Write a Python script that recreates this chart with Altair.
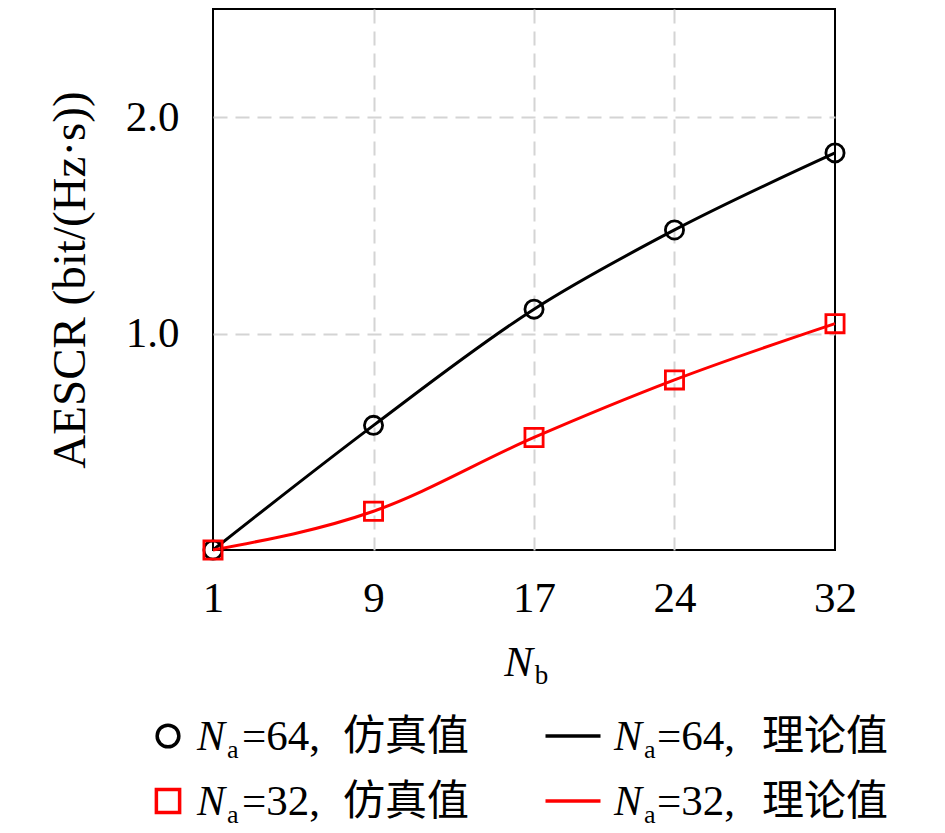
import altair as alt
import pandas as pd

# ---- data ----
nb_values = [1, 9, 17, 24, 32]
sim_na64 = [0.0, 0.576, 1.113, 1.479, 1.835]
sim_na32 = [0.0, 0.179, 0.520, 0.786, 1.046]
theory_na64 = [0.0, 0.576, 1.113, 1.479, 1.835]
theory_na32 = [0.0, 0.179, 0.520, 0.786, 1.046]
x_ticks = [1, 9, 17, 24, 32]
x_grid = [9, 17, 24]
y_ticks = [1.0, 2.0]
series_names = ["64", "32"]
series_colors = ["black", "red"]
series_shapes = ["circle", "square"]

legend_num = ["=64,", "=32,", "=64,", "=32,"]
legend_cn = ["仿真值", "仿真值", "理论值", "理论值"]
legend_col = [0, 0, 1, 1]
legend_row = [0, 1, 0, 1]
legend_color = ["black", "red", "black", "red"]
legend_kind = ["circle", "square", "line", "line"]

FONT = "Liberation Serif, Noto Sans CJK SC"
FS = 43

sim = pd.DataFrame({
    "Nb": nb_values * 2,
    "v": sim_na64 + sim_na32,
    "s": ["64"] * len(nb_values) + ["32"] * len(nb_values),
})
theo = pd.DataFrame({
    "Nb": nb_values * 2,
    "v": theory_na64 + theory_na32,
    "s": ["64"] * len(nb_values) + ["32"] * len(nb_values),
})

xscale = alt.Scale(domain=[1, 32], nice=False, zero=False)
yscale = alt.Scale(domain=[0, 2.5], nice=False)
cscale = alt.Scale(domain=series_names, range=series_colors)

y_enc = alt.Y("v:Q", scale=yscale, axis=alt.Axis(
    values=y_ticks, format=".1f", title="AESCR (bit/(Hz·s))",
    titleFontSize=47, labelPadding=34, titlePadding=31, grid=True))

lines = alt.Chart(theo).mark_line(interpolate="monotone", strokeWidth=3).encode(
    x=alt.X("Nb:Q", scale=xscale, axis=alt.Axis(
        orient="bottom", values=x_ticks, title="N", titleFontStyle="italic",
        labelPadding=27, labelFlush=False, grid=False, titleX=305, titleY=125,
        titleBaseline="alphabetic", titleAlign="center")),
    y=y_enc,
    color=alt.Color("s:N", scale=cscale, legend=None),
    order=alt.Order("Nb:Q"),
)

points = alt.Chart(sim).mark_point(filled=False, strokeWidth=2.8, size=330, opacity=1).encode(
    x=alt.X("Nb:Q", scale=xscale, axis=alt.Axis(
        orient="bottom", values=x_grid, title="b", labels=False, ticks=False,
        grid=True, titleFontSize=27, titleX=328, titleY=133,
        titleBaseline="alphabetic", titleAlign="center")),
    y=y_enc,
    color=alt.Color("s:N", scale=cscale, legend=None),
    shape=alt.Shape("s:N", scale=alt.Scale(domain=series_names, range=series_shapes), legend=None),
)

main = alt.layer(lines, points).resolve_axis(x="independent").properties(width=622, height=541)

# ---- manual legend below ----
leg = pd.DataFrame({
    "col": legend_col, "row": legend_row, "color": legend_color,
    "kind": legend_kind, "num": legend_num, "cn": legend_cn,
    "N": ["N"] * 4, "sub": ["a"] * 4,
})
lx = alt.X("col:Q", scale=alt.Scale(domain=[0, 1], range=[-45, 360]), axis=None)
ly = alt.Y("row:Q", scale=alt.Scale(domain=[0, 1], range=[47, 112]), axis=None)
base = alt.Chart(leg)

sym_pts = base.transform_filter("datum.kind != 'line'").mark_point(
    filled=False, strokeWidth=3.5, opacity=1).encode(
    x=lx, y=ly, shape=alt.Shape("kind:N", scale=None),
    color=alt.Color("color:N", scale=None),
    size=alt.Size("kind:N", scale=alt.Scale(domain=["circle", "square"], range=[470, 540]), legend=None))
sym_lines = base.transform_filter("datum.kind == 'line'").mark_tick(
    orient="horizontal", size=55, thickness=3.5, opacity=1).encode(
    x=lx, y=ly, color=alt.Color("color:N", scale=None))

text_layers = []
for c, offs in [(0, (29, 59, 74, 175)), (1, (41, 71, 84, 189))]:
    b = base.transform_filter(f"datum.col == {c}")
    text_layers.append(b.mark_text(align="left", baseline="alphabetic", font=FONT,
                                   fontSize=42, fontStyle="italic", dx=offs[0], dy=14).encode(
        x=lx, y=ly, text="N:N"))
    text_layers.append(b.mark_text(align="left", baseline="alphabetic", font=FONT,
                                   fontSize=26, dx=offs[1], dy=22).encode(
        x=lx, y=ly, text="sub:N"))
    text_layers.append(b.mark_text(align="left", baseline="alphabetic", font=FONT,
                                   fontSize=43, dx=offs[2], dy=14).encode(
        x=lx, y=ly, text="num:N"))
    text_layers.append(b.mark_text(align="left", baseline="alphabetic", font=FONT,
                                   fontSize=42, dx=offs[3], dy=14).encode(
        x=lx, y=ly, text="cn:N"))

legend = alt.layer(sym_pts, sym_lines, *text_layers).properties(
    width=622, height=115, view=alt.ViewConfig(stroke=None))

chart = alt.vconcat(main, legend, spacing=0).properties(
    padding={"left": 37, "top": 0, "right": 5, "bottom": 0}
).configure_view(stroke="black", strokeWidth=2).configure_axis(
    labelFont=FONT, titleFont=FONT, labelFontSize=FS, titleFontSize=FS,
    labelColor="black", titleColor="black", titleFontWeight="normal",
    domain=False, ticks=False, tickSize=0,
    gridColor="#d4d4d4", gridDash=[14, 8], gridWidth=2,
)

chart.save("out.html", embed_options={"renderer": "svg", "actions": False})
